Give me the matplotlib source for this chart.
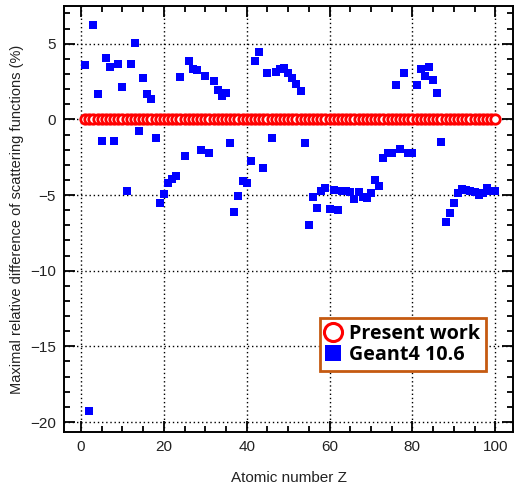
import matplotlib
matplotlib.use('Agg')
import matplotlib.pyplot as plt
from matplotlib.ticker import MultipleLocator
from matplotlib.lines import Line2D
import numpy as np

# Present work: reference, zero difference for every Z
z_present = list(range(1, 101))
diff_present = [0.0] * 100

# Geant4 10.6 maximal relative difference (%)
z_g4 = list(range(1, 101))
diff_g4 = [3.6, -19.3, 6.25, 1.65, -1.45, 4.05, 3.45, -1.45, 3.65, 2.15,
           -4.75, 3.65, 5.05, -0.75, 2.75, 1.65, 1.35, -1.25, -5.55, -4.95,
           -4.2, -3.95, -3.75, 2.8, -2.45, 3.85, 3.3, 3.25, -2.05, 2.85,
           -2.25, 2.55, 1.95, 1.55, 1.75, -1.55, -6.1, -5.05, -4.05, -4.2,
           -2.75, 3.85, 4.45, -3.2, 3.05, -1.25, 3.15, 3.3, 3.4, 3.1,
           2.75, 2.35, 1.9, -1.55, -7.0, -5.15, -5.85, -4.75, -4.55, -5.9,
           -4.65, -6.0, -4.7, -4.75, -4.8, -5.25, -4.8, -5.1, -5.2, -4.85,
           -4.0, -4.4, -2.55, -2.25, -2.2, 2.25, -1.95, 3.05, -2.2, -2.25,
           2.25, 3.3, 2.85, 3.45, 2.6, 1.75, -1.5, -6.8, -6.2, -5.55,
           -4.85, -4.6, -4.65, -4.75, -4.8, -5.0, -4.85, -4.55, -4.75, -4.75]

plt.rcParams['font.family'] = ['Liberation Sans', 'DejaVu Sans']

fig = plt.figure(figsize=(5.18, 4.94), dpi=100)
ax = fig.add_axes([0.1236, 0.1255, 0.8668, 0.8625])

ax.plot(z_g4, diff_g4, linestyle='none', marker='s', markersize=6.2,
        color='#0000ff', markeredgewidth=0)
ax.plot(z_present, diff_present, linestyle='none', marker='o', markersize=6.8,
        markerfacecolor='white', markeredgecolor='#ff0000', markeredgewidth=2)

ax.set_xlim(-4.1, 104.3)
ax.set_ylim(-20.66, 7.5)

ax.xaxis.set_major_locator(MultipleLocator(20))
ax.xaxis.set_minor_locator(MultipleLocator(5))
ax.yaxis.set_major_locator(MultipleLocator(5))
ax.yaxis.set_minor_locator(MultipleLocator(1))
ax.tick_params(which='both', direction='in', top=True, right=True,
               labelsize=11, labelcolor='#222222', width=1.3)
ax.tick_params(which='major', length=8, pad=6)
ax.tick_params(which='minor', length=4)
for s in ax.spines.values():
    s.set_linewidth(1.4)

ax.grid(True, which='major', linestyle=(0, (1, 2)), color='black', linewidth=1)
ax.set_axisbelow(True)

ax.set_xlabel('Atomic number Z', fontsize=11, color='#222222', labelpad=12)
ax.set_ylabel('Maximal relative difference of scattering functions (%)',
              fontsize=10.5, color='#222222', labelpad=4)

handles = [Line2D([], [], linestyle='none', marker='o', markersize=13,
                  markerfacecolor='white', markeredgecolor='#ff0000', markeredgewidth=2.2),
           Line2D([], [], linestyle='none', marker='s', markersize=12,
                  color='#0000ff', markeredgewidth=0)]
leg = ax.legend(handles, ['Present work', 'Geant4 10.6'], loc='upper left',
                bbox_to_anchor=(0.569, 0.268), fancybox=False, framealpha=1,
                edgecolor='#c55a11', handlelength=0.8, handletextpad=0.4,
                borderpad=0.3, labelspacing=0.05, borderaxespad=0,
                prop={'family': 'Open Sans', 'weight': 'bold', 'size': 14.2})
leg.get_frame().set_linewidth(2)

fig.savefig('out.png', dpi=100)
